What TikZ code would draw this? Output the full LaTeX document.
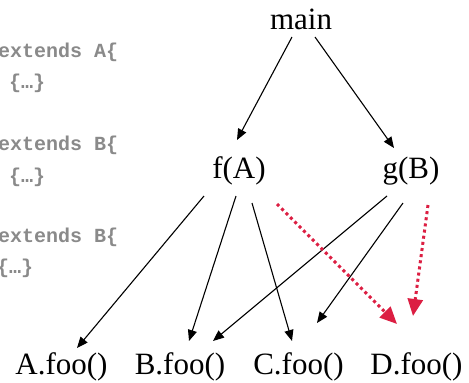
\documentclass[tikz,border=0pt]{standalone}
\usepackage{fontspec}
\setmainfont{Liberation Serif}
\newfontfamily\codefont{Liberation Mono}
\usetikzlibrary{arrows.meta,calc}
\definecolor{codegray}{RGB}{138,138,138}
\definecolor{callred}{RGB}{220,30,66}
\begin{document}
\begin{tikzpicture}[x=1pt,y=-1pt,
  lbl/.style={anchor=base,inner sep=0pt,font=\fontsize{31}{36}\selectfont},
  code/.style={anchor=base west,inner sep=0pt,text=codegray,font=\codefont\bfseries\fontsize{20}{24}\selectfont},
  arr/.style={line width=1.1pt,-{Triangle[length=11pt,width=9pt]}},
  redarr/.style={callred,line width=3pt,dash pattern=on 3pt off 3.2pt,-{Triangle[length=17pt,width=15pt]}}]
\useasboundingbox (0,0) rectangle (469,383);
\clip (0,0) rectangle (469,383);
\fill[white] (0,0) rectangle (469,383);
% code fragments
\node[code] (c1) at (-2,57) {extends A\{};
\node[code] (c2) at (9,88) {\{…\}};
\node[code] (c3) at (-2,150) {extends B\{};
\node[code] (c4) at (9,182) {\{…\}};
\node[code] (c5) at (-2,242) {extends B\{};
\node[code] (c6) at (-3,273) {\{…\}};
% call graph nodes
\node[lbl] (main) at (301,29) {main};
\node[lbl] (fA) at (239,178) {f(A)};
\node[lbl] (gB) at (411,178) {g(B)};
\node[lbl] (Afoo) at (61.5,374) {A.foo()};
\node[lbl] (Bfoo) at (180,374) {B.foo()};
\node[lbl] (Cfoo) at (298.5,374) {C.foo()};
\node[lbl] (Dfoo) at (416.5,374) {D.foo()};
% edges
\draw[arr] ($(main.base)+(-9,8)$) -- ($(fA.base)+(-2,-38)$);
\draw[arr] ($(main.base)+(14,8)$) -- ($(gB.base)+(-17,-30)$);
\draw[arr] ($(fA.base)+(-35,18)$) -- ($(Afoo.base)+(15.5,-26)$);
\draw[arr] ($(fA.base)+(-3,18)$) -- ($(Bfoo.base)+(9,-33)$);
\draw[arr] ($(fA.base)+(13,25)$) -- ($(Cfoo.base)+(-6.5,-33)$);
\draw[arr] ($(gB.base)+(-24,18)$) -- ($(Bfoo.base)+(33,-33)$);
\draw[arr] ($(gB.base)+(-8,25)$) -- ($(Cfoo.base)+(18.5,-51)$);
\draw[redarr] ($(fA.base)+(38,26)$) -- ($(Dfoo.base)+(-19.5,-50)$);
\draw[redarr] ($(gB.base)+(17,27)$) -- ($(Dfoo.base)+(-3.5,-58)$);
\end{tikzpicture}
\end{document}
